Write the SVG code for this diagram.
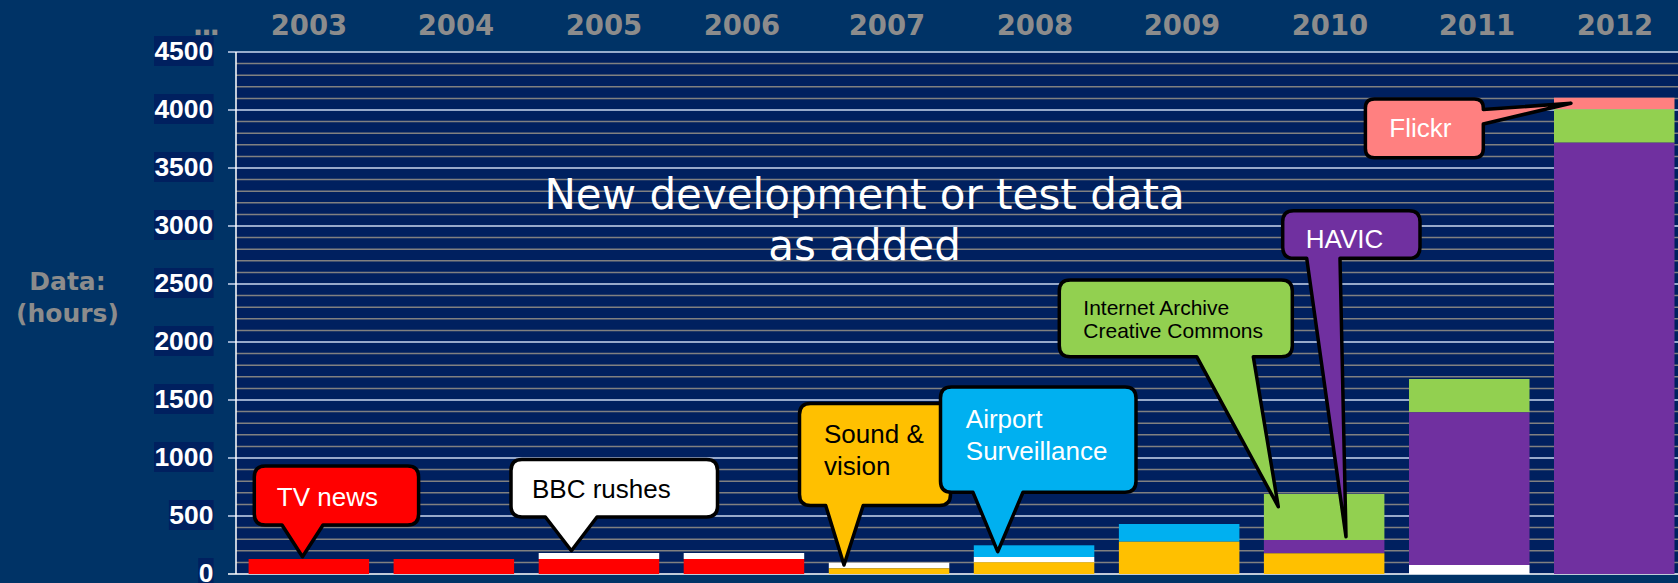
<svg xmlns="http://www.w3.org/2000/svg" width="1678" height="583" viewBox="0 0 1678 583">
<style>
.year{font-family:"DejaVu Sans",Verdana,sans-serif;font-weight:bold;font-size:27.5px;fill:#8c8c8c;text-anchor:middle}
.ylab{font-family:"Liberation Sans",Arial,sans-serif;font-weight:bold;font-size:25px;fill:#ffffff}
.ybox{fill:#00205f}
.axt{font-family:"DejaVu Sans",Verdana,sans-serif;font-weight:bold;font-size:25px;fill:#8c8c8c;text-anchor:middle}
.title{font-family:"DejaVu Sans",Verdana,sans-serif;font-size:42px;fill:#ffffff;text-anchor:middle}
.co{stroke:#000000;stroke-width:3.5;stroke-linejoin:round}
.ct{font-family:"Liberation Sans",Arial,sans-serif;font-size:26px}
.ctw{fill:#ffffff}
.ctb{fill:#000000}
.minor{stroke:#808080;stroke-width:1.5;fill:none}
.major{stroke:#c9d6ee;stroke-width:1.5;fill:none}
</style>
<rect x="0" y="0" width="1678" height="583" fill="#003366"/>
<rect x="236" y="52" width="1442" height="522" fill="#00205f"/>
<g id="grid">
<path class="minor" d="M236 562.4H1678M236 550.8H1678M236 539.2H1678M236 527.6H1678M236 504.4H1678M236 492.8H1678M236 481.2H1678M236 469.6H1678M236 446.4H1678M236 434.8H1678M236 423.2H1678M236 411.6H1678M236 388.4H1678M236 376.8H1678M236 365.2H1678M236 353.6H1678M236 330.4H1678M236 318.8H1678M236 307.2H1678M236 295.6H1678M236 272.4H1678M236 260.8H1678M236 249.2H1678M236 237.6H1678M236 214.4H1678M236 202.8H1678M236 191.2H1678M236 179.6H1678M236 156.4H1678M236 144.8H1678M236 133.2H1678M236 121.6H1678M236 98.4H1678M236 86.8H1678M236 75.2H1678M236 63.6H1678"/>
<path class="major" d="M228 52H1678M228 110H1678M228 168H1678M228 226H1678M228 284H1678M228 342H1678M228 400H1678M228 458H1678M228 516H1678"/>
<path d="M236 52V574M228 574H1678" stroke="#ffffff" stroke-width="1.5" fill="none"/>
</g>
<g id="y-labels">
<rect class="ybox" x="154" y="36" width="59.6" height="30"/><text class="ylab" x="154.4" y="60" textLength="58.8" lengthAdjust="spacingAndGlyphs">4500</text>
<rect class="ybox" x="154" y="94" width="59.6" height="30"/><text class="ylab" x="154.4" y="118" textLength="58.8" lengthAdjust="spacingAndGlyphs">4000</text>
<rect class="ybox" x="154" y="152" width="59.6" height="30"/><text class="ylab" x="154.4" y="176" textLength="58.8" lengthAdjust="spacingAndGlyphs">3500</text>
<rect class="ybox" x="154" y="210" width="59.6" height="30"/><text class="ylab" x="154.4" y="234" textLength="58.8" lengthAdjust="spacingAndGlyphs">3000</text>
<rect class="ybox" x="154" y="268" width="59.6" height="30"/><text class="ylab" x="154.4" y="292" textLength="58.8" lengthAdjust="spacingAndGlyphs">2500</text>
<rect class="ybox" x="154" y="326" width="59.6" height="30"/><text class="ylab" x="154.4" y="350" textLength="58.8" lengthAdjust="spacingAndGlyphs">2000</text>
<rect class="ybox" x="154" y="384" width="59.6" height="30"/><text class="ylab" x="154.4" y="408" textLength="58.8" lengthAdjust="spacingAndGlyphs">1500</text>
<rect class="ybox" x="154" y="442" width="59.6" height="30"/><text class="ylab" x="154.4" y="466" textLength="58.8" lengthAdjust="spacingAndGlyphs">1000</text>
<rect class="ybox" x="168.9" y="500" width="44.7" height="30"/><text class="ylab" x="169.3" y="524" textLength="44.1" lengthAdjust="spacingAndGlyphs">500</text>
<rect class="ybox" x="198.2" y="558" width="15.4" height="30"/><text class="ylab" x="198.7" y="582" textLength="14.7" lengthAdjust="spacingAndGlyphs">0</text>
</g>
<g id="axis-title">
<text class="axt" x="67.5" y="289.5">Data:</text>
<text class="axt" x="67.5" y="321.5">(hours)</text>
</g>
<g id="years">
<text class="year" x="205.4" y="35" letter-spacing="-2">...</text>
<text class="year" x="309" y="35">2003</text>
<text class="year" x="456" y="35">2004</text>
<text class="year" x="604" y="35">2005</text>
<text class="year" x="742" y="35">2006</text>
<text class="year" x="887" y="35">2007</text>
<text class="year" x="1035" y="35">2008</text>
<text class="year" x="1182" y="35">2009</text>
<text class="year" x="1330" y="35">2010</text>
<text class="year" x="1477" y="35">2011</text>
<text class="year" x="1615" y="35">2012</text>
</g>
<g id="bars">
<g id="bar-2003"><rect x="248.6" y="559" width="120.5" height="15" fill="#ff0000"/></g>
<g id="bar-2004"><rect x="393.6" y="559" width="120.5" height="15" fill="#ff0000"/></g>
<g id="bar-2005"><rect x="538.7" y="553" width="120.5" height="6" fill="#ffffff"/><rect x="538.7" y="559" width="120.5" height="15" fill="#ff0000"/></g>
<g id="bar-2006"><rect x="683.7" y="553" width="120.5" height="6" fill="#ffffff"/><rect x="683.7" y="559" width="120.5" height="15" fill="#ff0000"/></g>
<g id="bar-2007"><rect x="828.8" y="562.7" width="120.5" height="5.6" fill="#ffffff"/><rect x="828.8" y="568.3" width="120.5" height="5.7" fill="#ffc000"/></g>
<g id="bar-2008"><rect x="973.8" y="545.3" width="120.5" height="11.7" fill="#00b0f0"/><rect x="973.8" y="557" width="120.5" height="5.3" fill="#ffffff"/><rect x="973.8" y="562.3" width="120.5" height="11.7" fill="#ffc000"/></g>
<g id="bar-2009"><rect x="1118.9" y="524" width="120.5" height="17.7" fill="#00b0f0"/><rect x="1118.9" y="541.7" width="120.5" height="32.3" fill="#ffc000"/></g>
<g id="bar-2010"><rect x="1263.9" y="494" width="120.5" height="46" fill="#92d050"/><rect x="1263.9" y="540" width="120.5" height="13.3" fill="#7030a0"/><rect x="1263.9" y="553.3" width="120.5" height="20.7" fill="#ffc000"/></g>
<g id="bar-2011"><rect x="1409" y="379" width="120.5" height="33.3" fill="#92d050"/><rect x="1409" y="412.3" width="120.5" height="152.7" fill="#7030a0"/><rect x="1409" y="565" width="120.5" height="9" fill="#ffffff"/></g>
<g id="bar-2012"><rect x="1554" y="97.7" width="120.5" height="11.6" fill="#ff8080"/><rect x="1554" y="109.3" width="120.5" height="33.4" fill="#92d050"/><rect x="1554" y="142.7" width="120.5" height="431.3" fill="#7030a0"/></g>
</g>
<g id="title">
<text class="title" x="864.6" y="209.3">New development or test data</text>
<text class="title" x="864.6" y="260">as added</text>
</g>
<g id="callout-tvnews">
<path class="co" fill="#ff0000" d="M265.3,466 H407.6 Q418.6,466 418.6,477 V514 Q418.6,525 407.6,525 H323 L302.5,556.7 L282,525 H265.3 Q254.3,525 254.3,514 V477 Q254.3,466 265.3,466 Z"/>
<text class="ct ctw" x="276.8" y="505.7">TV news</text>
</g>
<g id="callout-bbc">
<path class="co" fill="#ffffff" d="M522,459.5 H706.5 Q717.5,459.5 717.5,470.5 V506 Q717.5,517 706.5,517 H597 L571.4,550.7 L545.4,517 H522 Q511,517 511,506 V470.5 Q511,459.5 522,459.5 Z"/>
<text class="ct ctb" x="532" y="498">BBC rushes</text>
</g>
<g id="callout-sound">
<path class="co" fill="#ffc000" d="M810.5,403.5 H939.5 Q950.5,403.5 950.5,414.5 V494.5 Q950.5,505.5 939.5,505.5 H863.2 L844,565 L825.7,505.5 H810.5 Q799.5,505.5 799.5,494.5 V414.5 Q799.5,403.5 810.5,403.5 Z"/>
<text class="ct ctb" x="824" y="442.7">Sound &amp;</text>
<text class="ct ctb" x="824" y="475">vision</text>
</g>
<g id="callout-airport">
<path class="co" fill="#00b0f0" d="M951.5,387 H1125 Q1136,387 1136,398 V481.3 Q1136,492.3 1125,492.3 H1023 L997.7,551.7 L973,492.3 H951.5 Q940.5,492.3 940.5,481.3 V398 Q940.5,387 951.5,387 Z"/>
<text class="ct ctw" x="965.8" y="428.3">Airport</text>
<text class="ct ctw" x="965.8" y="460">Surveillance</text>
</g>
<g id="callout-ia">
<path class="co" fill="#92d050" d="M1070.3,280 H1281.3 Q1292.3,280 1292.3,291 V345.7 Q1292.3,356.7 1281.3,356.7 H1253.3 L1278.3,506.7 L1196.7,356.7 H1070.3 Q1059.3,356.7 1059.3,345.7 V291 Q1059.3,280 1070.3,280 Z"/>
<text class="ct ctb" x="1083.3" y="315" style="font-size:21px">Internet Archive</text>
<text class="ct ctb" x="1083.3" y="338.3" style="font-size:21px">Creative Commons</text>
</g>
<g id="callout-havic">
<path class="co" fill="#7030a0" d="M1293.7,210.7 H1409 Q1420,210.7 1420,221.7 V247.3 Q1420,258.3 1409,258.3 H1340 L1346,536.7 L1306.7,258.3 H1293.7 Q1282.7,258.3 1282.7,247.3 V221.7 Q1282.7,210.7 1293.7,210.7 Z"/>
<text class="ct ctw" x="1305.7" y="248.3">HAVIC</text>
</g>
<g id="callout-flickr">
<path class="co" fill="#ff8080" d="M1374.4,99 H1474.3 Q1483.3,99 1483.3,108 V109.5 L1571,103.3 L1483.3,124 V148.7 Q1483.3,157.7 1474.3,157.7 H1374.4 Q1365.4,157.7 1365.4,148.7 V108 Q1365.4,99 1374.4,99 Z"/>
<text class="ct ctw" x="1389.3" y="137.3">Flickr</text>
</g>
</svg>
